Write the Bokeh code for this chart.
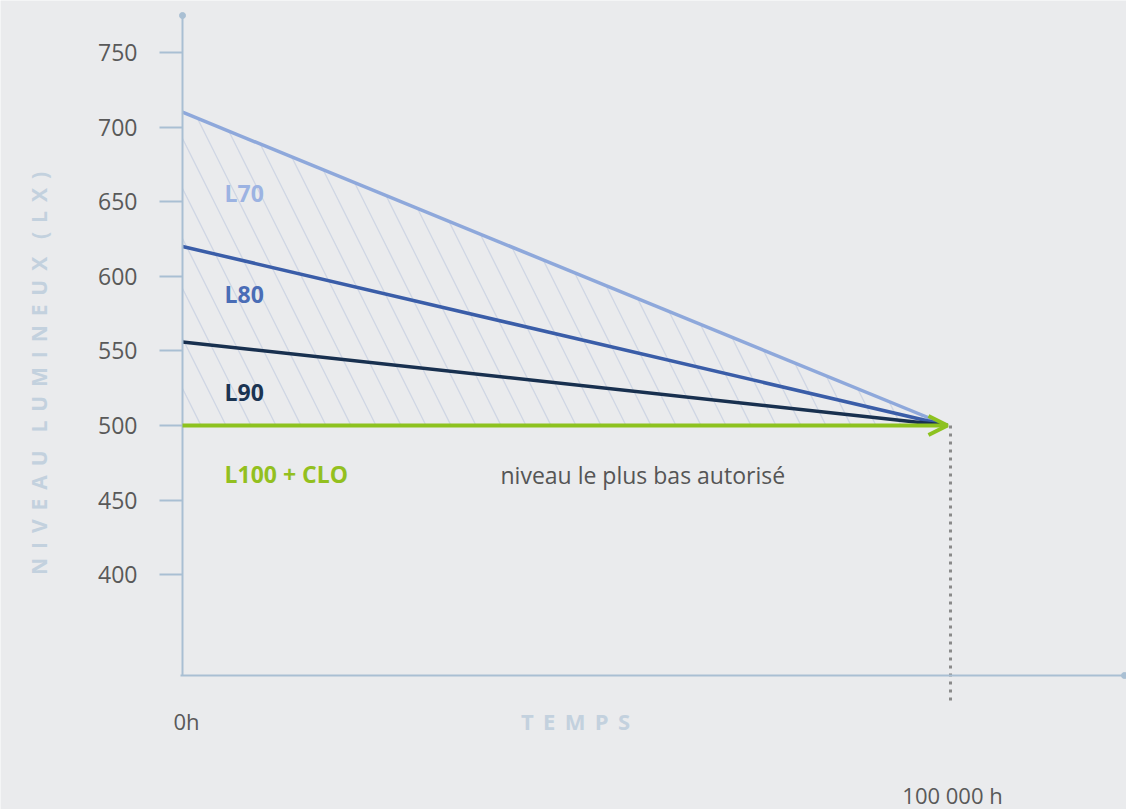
import math
from bokeh.plotting import figure
from bokeh.models import Range1d, FixedTicker, Label, Arrow, OpenHead
from bokeh.embed import file_html
from bokeh.resources import INLINE

# ---- data ----
hours = [0, 100000]
l70 = [710, 500]
l80 = [620, 500]
l90 = [556, 500]
l100 = [500, 500]
y_ticks = [400, 450, 500, 550, 600, 650, 700, 750]
series_names = ["L70", "L80", "L90", "L100 + CLO"]
floor_label = "niveau le plus bas autorisé"
x_labels = ["0h", "100 000 h"]
x_title_words = ["TEMPS"]
y_title_words = ["NIVEAU", "LUMINEUX", "(LX)"]

# letter-spaced titles (non-collapsible spaces)
GAP = "\u00a0\u2009"


def spaced(words):
    return (GAP * 2).join(GAP.join(w) for w in words)


x_title = spaced(x_title_words)
y_title = spaced(y_title_words)

# ---- layout (pixels) ----
W, H = 1126, 809
AX_L, AX_T, AX_B = 182, 15, 675     # axis positions in px
X_END_PX = 947                      # pixel of 100 000 h
Y500_PX, Y750_PX = 425, 52
ppx = (X_END_PX - AX_L) / hours[1]             # px per hour
ppy = (Y500_PX - Y750_PX) / 250.0              # px per lux


def dx(px):
    return (px - AX_L) / ppx


def dy(py):
    return 500 + (Y500_PX - py) / ppy


x_range = Range1d(dx(0), dx(W))
y_range = Range1d(dy(H), dy(0))

BG = "#eaebed"
AXIS = "#a9bfd3"
FONT = "Open Sans"

p = figure(width=W, height=H, x_range=x_range, y_range=y_range,
           output_backend="svg", toolbar_location=None, min_border=0)
p.background_fill_color = BG
p.border_fill_color = BG
p.outline_line_color = None
p.grid.visible = False

# y axis
ya = p.yaxis[0]
ya.fixed_location = 0
ya.bounds = (dy(AX_B), dy(AX_T))
ya.ticker = FixedTicker(ticks=y_ticks)
ya.axis_line_color = AXIS
ya.axis_line_width = 2
ya.major_tick_line_color = AXIS
ya.major_tick_line_width = 2
ya.major_tick_out = 23
ya.major_tick_in = 0
ya.minor_tick_line_color = None
ya.major_label_standoff = 22
ya.major_label_text_font = FONT
ya.major_label_text_font_size = "23px"
ya.major_label_text_color = "#595959"

# x axis
xa = p.xaxis[0]
xa.fixed_location = dy(AX_B)
xa.bounds = (dx(AX_L - 2), dx(W))
xa.ticker = FixedTicker(ticks=[])
xa.axis_line_color = AXIS
xa.axis_line_width = 2
xa.major_tick_line_color = None
xa.minor_tick_line_color = None
xa.major_label_text_font_size = "0px"

# axis end dots
p.scatter([0], [dy(AX_T)], size=6, color=AXIS)
p.scatter([dx(W - 2)], [dy(AX_B)], size=6, color=AXIS)

# hatched area between L70 and floor
p.varea(x=hours, y1=l100, y2=l70, fill_color=None, fill_alpha=0,
        hatch_pattern="\\", hatch_color="#cfd6e4", hatch_scale=50,
        hatch_weight=1.3)

# lines
p.line(hours, l70, line_color="#8ea8db", line_width=3.5)
p.line(hours, l80, line_color="#3a5da8", line_width=3.5)
p.line(hours, l90, line_color="#18304f", line_width=3.5)

GREEN = "#8dc21f"
# dotted vertical marker
mark_x = hours[1] + dx(950) - dx(X_END_PX)
p.segment(x0=[mark_x], y0=[l100[1]], x1=[mark_x], y1=[dy(702)],
          line_color="#8a8a8a", line_width=3, line_dash="3 5")
# green floor arrow
p.add_layout(Arrow(end=OpenHead(size=19, line_color=GREEN, line_width=4),
                   x_start=hours[0], y_start=l100[0], x_end=hours[1], y_end=l100[1],
                   line_color=GREEN, line_width=4))

# series labels
label_cols = ["#9cb3e2", "#4a6db6", "#1b3452", "#93c01f"]
label_py = [192, 293, 391, 473]
for name, col, py in zip(series_names, label_cols, label_py):
    p.add_layout(Label(x=dx(224), y=dy(py), text=name, text_font=FONT,
                       text_font_size="23px", text_font_style="bold",
                       text_color=col, text_baseline="middle"))

p.add_layout(Label(x=dx(500), y=dy(474), text=floor_label, text_font=FONT,
                   text_font_size="23px", text_color="#555555",
                   text_baseline="middle"))

# x labels
p.add_layout(Label(x=dx(186), y=dy(720), text=x_labels[0], text_font=FONT,
                   text_font_size="22px", text_color="#595959",
                   text_align="center", text_baseline="middle"))
p.add_layout(Label(x=dx(952), y=dy(794), text=x_labels[1], text_font=FONT,
                   text_font_size="22px", text_color="#595959",
                   text_align="center", text_baseline="middle"))

# axis titles
p.add_layout(Label(x=dx(575), y=dy(720), text=x_title, text_font=FONT,
                   text_font_size="22px", text_font_style="bold",
                   text_color="#c3d1de", text_align="center",
                   text_baseline="middle"))
p.add_layout(Label(x=dx(38), y=dy(373), text=y_title, text_font=FONT,
                   text_font_size="21px", text_font_style="bold",
                   text_color="#c3d1de", text_align="center",
                   text_baseline="middle", angle=math.pi / 2))

open("out.html", "w").write(file_html(p, INLINE))
